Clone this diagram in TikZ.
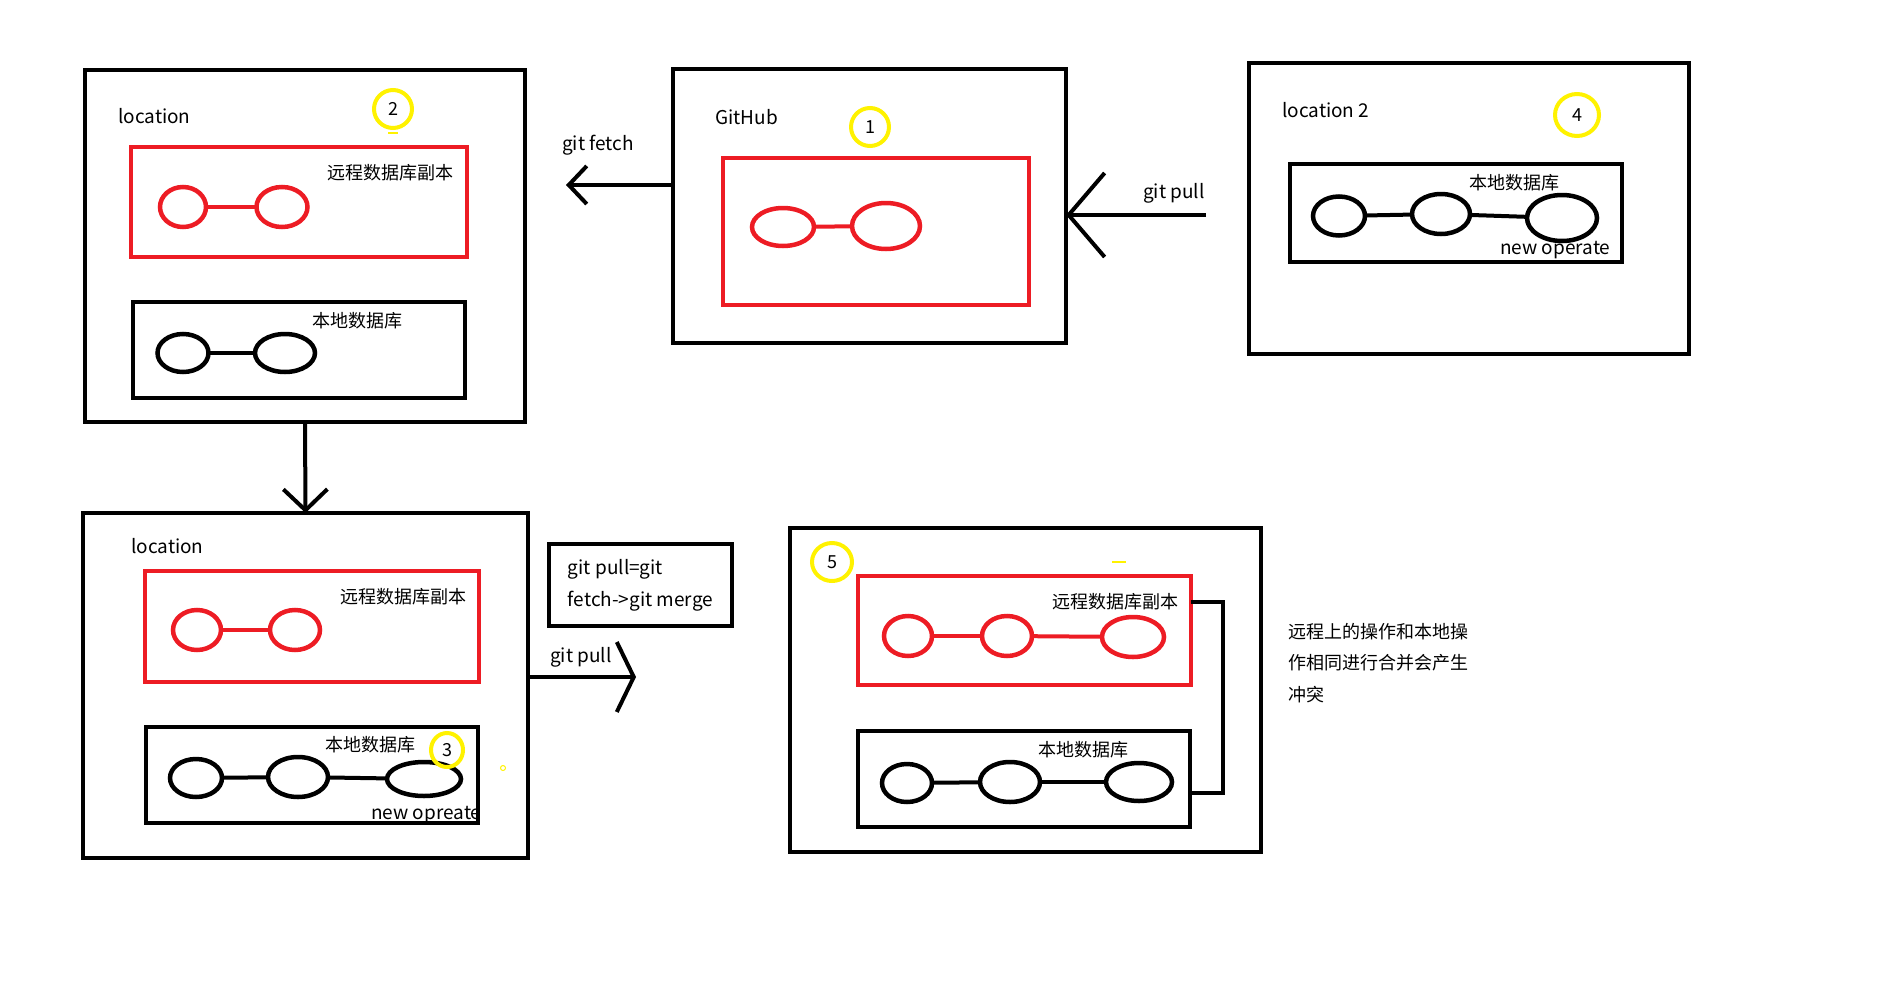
\documentclass[tikz,border=0pt]{standalone}
\usepackage{fontspec}
\setmainfont{Noto Sans CJK SC}
\usetikzlibrary{shapes.geometric,arrows.meta}
\definecolor{pred}{HTML}{ED1C24}
\definecolor{pyel}{HTML}{FFF200}
\begin{document}
\begin{tikzpicture}[x=1pt,y=-1pt,
  frame/.style={draw=black,line width=4pt,rectangle,inner sep=0pt,outer sep=0pt},
  redframe/.style={draw=pred,line width=4pt,rectangle,inner sep=0pt,outer sep=0pt},
  blkell/.style={draw=black,line width=4.5pt,ellipse,inner sep=0pt,outer sep=0pt},
  redell/.style={draw=pred,line width=4.5pt,ellipse,inner sep=0pt,outer sep=0pt},
  yelmark/.style={draw=pyel,line width=4pt,ellipse,inner sep=0pt,outer sep=0pt,font=\fontsize{18}{20}\selectfont},
  lat/.style={inner sep=0pt,anchor=west,font=\fontsize{19}{23}\selectfont},
  han/.style={inner sep=0pt,anchor=west,font=\fontsize{18}{22}\selectfont},
  blkline/.style={draw=black,line width=4pt},
  redline/.style={draw=pred,line width=4pt},
  conn/.style={draw=black,line width=4pt}
]
\useasboundingbox (0,0) rectangle (1895,982);

% ---------- box 1 : location ----------
\node[frame,minimum width=440pt,minimum height=352pt] (box1) at (305,246) {};
\node[lat] (t1) at (118,116) {location};
\node[yelmark,minimum width=38pt,minimum height=38pt] (y2) at (393,109) {2};
\draw[pyel,line width=2pt] (388,133) -- (398,133);
\node[redframe,minimum width=336pt,minimum height=110pt] (red1) at (299,202) {};
\node[han] (t2) at (327,173) {远程数据库副本};
\node[redell,minimum width=46pt,minimum height=40pt] (e11) at (183,207) {};
\node[redell,minimum width=51pt,minimum height=40pt] (e12) at (282,207) {};
\draw[redline] (e11) -- (e12);
\node[frame,minimum width=332pt,minimum height=96pt] (blk1) at (299,350) {};
\node[han] (t3) at (312,321) {本地数据库};
\node[blkell,minimum width=51pt,minimum height=38pt] (b11) at (183,353) {};
\node[blkell,minimum width=60pt,minimum height=38pt] (b12) at (285,353) {};
\draw[blkline] (b11) -- (b12);

% ---------- box 2 : GitHub ----------
\node[frame,minimum width=393pt,minimum height=274pt] (box2) at (869.5,206) {};
\node[lat] (t4) at (715,117) {GitHub};
\node[yelmark,minimum width=38pt,minimum height=38pt] (y1) at (870,127) {1};
\node[redframe,minimum width=306pt,minimum height=147pt] (red2) at (876,231.5) {};
\node[redell,minimum width=62pt,minimum height=38pt] (g1) at (783,227) {};
\node[redell,minimum width=68pt,minimum height=46pt] (g2) at (886,226) {};
\draw[redline] (g1) -- (g2);

% ---------- box 4 : location 2 ----------
\node[frame,minimum width=440pt,minimum height=291pt] (box4) at (1469,208.5) {};
\node[lat] (t5) at (1282,110) {location 2};
\node[yelmark,minimum width=44pt,minimum height=42pt] (y4) at (1577,115) {4};
\node[frame,minimum width=332pt,minimum height=98pt] (blk4) at (1456,213) {};
\node[han] (t6) at (1469,183) {本地数据库};
\node[blkell,minimum width=52pt,minimum height=39pt] (f1) at (1339,216) {};
\node[blkell,minimum width=58pt,minimum height=40pt] (f2) at (1441,214) {};
\node[blkell,minimum width=70pt,minimum height=46pt] (f3) at (1562,218) {};
\draw[blkline] (f1) -- (f2);
\draw[blkline] (f2) -- (f3);
\node[lat] (t7) at (1500,250) {new operate};

% ---------- box 3 : location (after fetch) ----------
\node[frame,minimum width=445pt,minimum height=345pt] (box3) at (305.5,685.5) {};
\node[lat] (t8) at (131,546) {location};
\node[redframe,minimum width=334pt,minimum height=111pt] (red3) at (312,626.5) {};
\node[han] (t9) at (340,597) {远程数据库副本};
\node[redell,minimum width=48pt,minimum height=40pt] (c1) at (197,630) {};
\node[redell,minimum width=50pt,minimum height=40pt] (c2) at (295,630) {};
\draw[redline] (c1) -- (c2);
\node[frame,minimum width=332pt,minimum height=96pt] (blk3) at (312,775) {};
\node[han] (t10) at (325,745) {本地数据库};
\node[blkell,minimum width=52pt,minimum height=38pt] (d1) at (196,778) {};
\node[blkell,minimum width=60pt,minimum height=40pt] (d2) at (298,777) {};
\node[blkell,minimum width=74pt,minimum height=34pt] (d3) at (424,779) {};
\draw[blkline] (d1) -- (d2);
\draw[blkline] (d2) -- (d3);
\node[yelmark,minimum width=32pt,minimum height=34pt] (y3) at (447,750) {3};
\node[lat] (t11) at (371,815) {new opreate};
\draw[pyel,line width=1pt] (503,768) circle (2.5);

% ---------- explanation box ----------
\node[frame,minimum width=183pt,minimum height=82pt,align=left,
      font=\fontsize{19}{32}\selectfont] (gitbox) at (640.5,585)
      {git pull=git\\fetch->git merge};

% ---------- box 5 : merge ----------
\node[frame,minimum width=471pt,minimum height=324pt] (box5) at (1025.5,690) {};
\node[yelmark,minimum width=40pt,minimum height=38pt] (y5) at (832,562) {5};
\draw[pyel,line width=2pt] (1112,562) -- (1126,562);
\node[redframe,minimum width=333pt,minimum height=109pt] (red5) at (1024.5,630.5) {};
\node[han] (t12) at (1052,602) {远程数据库副本};
\node[redell,minimum width=48pt,minimum height=40pt] (r1) at (908,636) {};
\node[redell,minimum width=50pt,minimum height=40pt] (r2) at (1007,636) {};
\node[redell,minimum width=62pt,minimum height=40pt] (r3) at (1133,637) {};
\draw[redline] (r1) -- (r2);
\draw[redline] (r2) -- (r3);
\node[frame,minimum width=332pt,minimum height=96pt] (blk5) at (1024,779) {};
\node[han] (t13) at (1038,750) {本地数据库};
\node[blkell,minimum width=50pt,minimum height=38pt] (k1) at (907,783) {};
\node[blkell,minimum width=60pt,minimum height=40pt] (k2) at (1010,782) {};
\node[blkell,minimum width=66pt,minimum height=38pt] (k3) at (1139,782) {};
\draw[blkline] (k1) -- (k2);
\draw[blkline] (k2) -- (k3);
\coordinate (m1) at (1223,602);
\coordinate (m2) at (1223,793);
\draw[conn] (red5.east |- m1) -- (m1) -- (m2) -- (blk5.east |- m2);

\node[han,align=left,font=\fontsize{18}{31.5}\selectfont] (t14) at (1288,663)
  {远程上的操作和本地操\\作相同进行合并会产生\\冲突};

% ---------- arrows ----------
\coordinate (fetchtip) at (566,185);
\draw[conn,-{Straight Barb[length=18pt,width=38pt]}] (box2.west |- fetchtip) -- (fetchtip);
\node[lat] (t15) at (562,145) {git fetch};

\coordinate (pullstart) at (1206,215);
\draw[conn,-{Straight Barb[length=36pt,width=84pt]}] (pullstart) -- (box2.east |- pullstart);
\node[lat] (t16) at (1143,193) {git pull};

\draw[conn,-{Straight Barb[length=21pt,width=44pt]}] (box1.south) -- (box3.north);

\coordinate (pulltip) at (636,677);
\draw[conn,-{Straight Barb[length=17pt,width=70pt]}] (box3.east |- pulltip) -- (pulltip);
\node[lat] (t17) at (550,657) {git pull};
\end{tikzpicture}
\end{document}
